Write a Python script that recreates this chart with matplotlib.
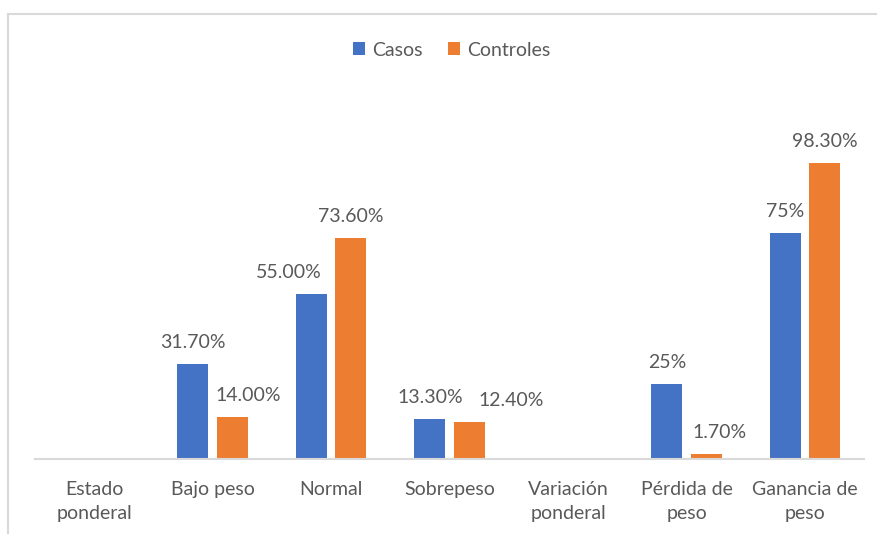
import matplotlib
matplotlib.use("Agg")
import matplotlib.pyplot as plt
from matplotlib.lines import Line2D
import numpy as np

categories = ["Estado\nponderal", "Bajo peso", "Normal", "Sobrepeso",
              "Variación\nponderal", "Pérdida de\npeso", "Ganancia de\npeso"]
casos = [None, 31.7, 55.0, 13.3, None, 25.0, 75.0]
controles = [None, 14.0, 73.6, 12.4, None, 1.7, 98.3]
casos_labels = [None, "31.70%", "55.00%", "13.30%", None, "25%", "75%"]
controles_labels = [None, "14.00%", "73.60%", "12.40%", None, "1.70%", "98.30%"]
series_names = ["Casos", "Controles"]

# horizontal nudges (in points) of the data labels, as placed in the reference
casos_dx = [0, 0, -16.5, 0, 0, 0, 0]
controles_dx = [0, 11.5, 0, 30.5, 0, 10, 0]

BLUE = "#4472C4"
ORANGE = "#ED7D31"
TEXT = "#595959"
GRID = "#D9D9D9"

plt.rcParams["font.family"] = ["Lato", "DejaVu Sans"]

W, H = 877, 534
fig = plt.figure(figsize=(W / 100, H / 100), dpi=100)
ax = fig.add_axes([34.75 / W, 1 - 459 / H, 829.5 / W, 327.8 / H])

x = np.arange(len(categories))
bw = 0.262
off = 0.165

def clean(vals):
    return [np.nan if v is None else v for v in vals]

b1 = ax.bar(x - off, clean(casos), bw, color=BLUE, label=series_names[0])
b2 = ax.bar(x + off, clean(controles), bw, color=ORANGE, label=series_names[1])

for xs, vals, labs, dxs in [(x - off, casos, casos_labels, casos_dx),
                            (x + off, controles, controles_labels, controles_dx)]:
    for xi, v, lab, dx in zip(xs, vals, labs, dxs):
        if v is None:
            continue
        ax.annotate(lab, (xi, v), xytext=(dx, 11.5), textcoords="offset points",
                    ha="center", va="baseline", fontsize=14, color=TEXT)

ax.set_xlim(-0.5, len(categories) - 0.5)
ax.set_ylim(0, 109)
ax.set_xticks(x)
ax.set_xticklabels(categories, fontsize=14, color=TEXT, linespacing=1.45)
ax.tick_params(axis="x", length=0, pad=16)
ax.set_yticks([])
for s in ["top", "left", "right"]:
    ax.spines[s].set_visible(False)
ax.spines["bottom"].set_color(GRID)
ax.spines["bottom"].set_linewidth(1.5)

leg = fig.legend(handles=[b1, b2], labels=series_names, loc="center",
                 bbox_to_anchor=(451.5 / W, 1 - 50 / H), ncol=2, frameon=False,
                 fontsize=14, handlelength=0.62, handleheight=0.62,
                 handletextpad=0.35, columnspacing=1.3, borderaxespad=0)
for t in leg.get_texts():
    t.set_color(TEXT)

# chart frame (partially visible)
fig.add_artist(Line2D([8 / W, 8 / W], [1 - 14 / H, 0], transform=fig.transFigure,
                      color=GRID, linewidth=1.5))
fig.add_artist(Line2D([8 / W, 1], [1 - 14 / H, 1 - 14 / H], transform=fig.transFigure,
                      color=GRID, linewidth=1.5))

fig.savefig("out.png", dpi=100)
